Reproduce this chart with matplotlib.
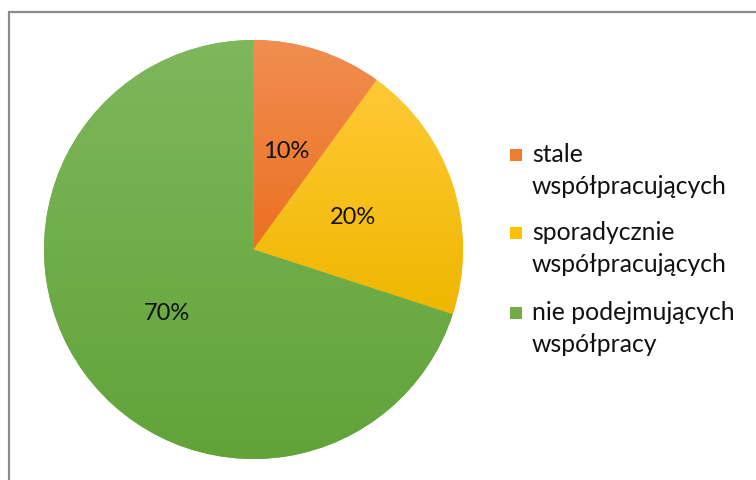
import numpy as np
import matplotlib.pyplot as plt
from matplotlib.patches import Rectangle
from matplotlib.colors import LinearSegmentedColormap

plt.rcParams['font.family'] = ['Lato', 'DejaVu Sans']

# dane
labels = ["stale\nwspółpracujących", "sporadycznie\nwspółpracujących", "nie podejmujących\nwspółpracy"]
values = [10, 20, 70]
pct_labels = ["10%", "20%", "70%"]
colors_top = ["#F18E50", "#FFC936", "#7FB75C"]
colors_bottom = ["#EB7022", "#EFB700", "#61A339"]
colors_mid = ["#ED7D31", "#FFC000", "#70AD47"]

fig = plt.figure(figsize=(7.56, 4.8), dpi=100)
W, H = 756, 480

# ramka
fig.add_artist(Rectangle((8.5 / W, -0.1), 1.0, (480 - 11.5) / H + 0.1, transform=fig.transFigure,
                         fill=False, edgecolor="#8c8c8c", linewidth=1.6))

cx, cy, r = 253.5, 249.5, 209.5
ax = fig.add_axes([(cx - r) / W, (H - cy - r) / H, 2 * r / W, 2 * r / H])

wedges, _ = ax.pie(values, startangle=90, counterclock=False, radius=1,
                   colors=colors_mid, wedgeprops=dict(linewidth=0))
ax.axis("off")

# gradient w kazdym wycinku (jasniejszy u gory)
for w, ct, cb in zip(wedges, colors_top, colors_bottom):
    th = np.radians(np.linspace(w.theta1, w.theta2, 200))
    ys = np.concatenate([np.sin(th), [0]])
    ymin, ymax = ys.min(), ys.max()
    cmap = LinearSegmentedColormap.from_list("g", [cb, ct])
    grad = np.linspace(1, 0, 256).reshape(-1, 1)
    im = ax.imshow(grad, cmap=cmap, extent=[-1, 1, ymin, ymax], aspect="auto",
                   zorder=w.get_zorder() + 0.5, interpolation="bilinear")
    im.set_clip_path(w)
ax.set_xlim(-1, 1)
ax.set_ylim(-1, 1)

# etykiety procentowe
label_pos = [(286, 152), (353, 218), (167, 313)]
for (px, py), t in zip(label_pos, pct_labels):
    fig.text(px / W, 1 - py / H, t, ha="center", va="center", fontsize=17, color="#111111")

# legenda
entry_y = [155, 233, 313]
for ey, lab, c in zip(entry_y, labels, colors_mid):
    fig.add_artist(Rectangle((510 / W, 1 - (ey + 6) / H), 12 / W, 12 / H,
                             transform=fig.transFigure, facecolor=c, edgecolor="none"))
    fig.text(532 / W, 1 - (ey - 12) / H, lab, ha="left", va="top", fontsize=17.8,
             color="#111111", linespacing=1.5)

fig.savefig("out.png", dpi=100)
